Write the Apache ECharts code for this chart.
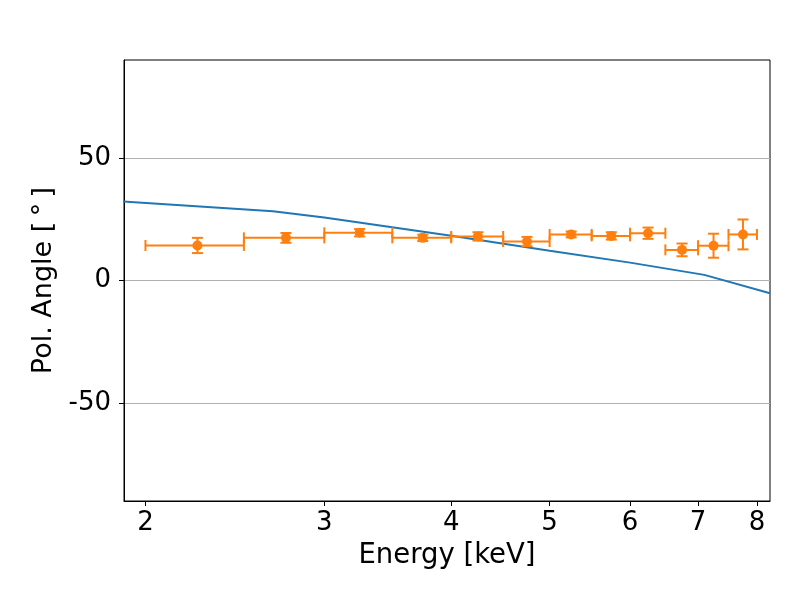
<!DOCTYPE html>
<html>
<head>
<meta charset="utf-8">
<script src="https://cdn.jsdelivr.net/npm/echarts@6/dist/echarts.min.js"></script>
<style>html,body{margin:0;padding:0;background:#fff}#c{width:800px;height:600px}</style>
</head>
<body>
<div id="c"></div>
<script>
// Measured data (energy bins in keV, polarization angle in degrees)
const binCenters = [2.25, 2.75, 3.25, 3.75, 4.25, 4.75, 5.25, 5.75, 6.25, 6.75, 7.25, 7.75];
const binHalfWidths = [0.25, 0.25, 0.25, 0.25, 0.25, 0.25, 0.25, 0.25, 0.25, 0.25, 0.25, 0.25];
const angles = [14.3, 17.4, 19.5, 17.4, 18.0, 15.9, 18.8, 18.2, 19.3, 12.5, 14.2, 18.8];
const angleErrors = [3.1, 2.0, 1.5, 1.3, 1.7, 1.9, 1.2, 1.5, 2.3, 2.6, 4.9, 6.1];
// Model curve
const modelEnergies = [1.9, 2.67, 3.0, 4.0, 5.0, 6.0, 7.1, 8.24];
const modelAngles = [32.2, 28.3, 25.7, 18.3, 12.1, 7.3, 2.3, -5.2];
// Tick labels
const xTicks = [2, 3, 4, 5, 6, 7, 8];
const yTicks = [-50, 0, 50];

const L = Math.log10;
const xMin = L(1.905), xMax = L(8.24);

const errData = binCenters.map((e, i) => [
  L(e), angles[i], L(e - binHalfWidths[i]), L(e + binHalfWidths[i]),
  angles[i] - angleErrors[i], angles[i] + angleErrors[i]
]);
const modelData = modelEnergies.map((e, i) => [L(e), modelAngles[i]]);

const ORANGE = '#ff7f0e', BLUE = '#1f77b4';
const CAP = 5.5;

const chart = echarts.init(document.getElementById('c'), null, {renderer: 'canvas'});
chart.setOption({
  animation: false,
  backgroundColor: '#fff',
  grid: {left: 124, right: 30, top: 60, bottom: 99, show: true, borderColor: '#000', borderWidth: 1, backgroundColor: '#fff'},
  xAxis: {
    type: 'value', min: xMin, max: xMax,
    name: 'Energy [keV]', nameLocation: 'middle', nameGap: 41,
    nameTextStyle: {fontFamily: 'DejaVu Sans', fontSize: 27.5, color: '#000'},
    axisLine: {show: true, onZero: false, lineStyle: {color: '#000', width: 1}},
    axisTick: {show: true, inside: false, length: 5, lineStyle: {color: '#000', width: 1}, customValues: xTicks.map(L)},
    axisLabel: {show: true, margin: 9, fontFamily: 'DejaVu Sans', fontSize: 26, color: '#000',
      customValues: xTicks.map(L), formatter: v => String(Math.round(Math.pow(10, v)))},
    splitLine: {show: false}
  },
  yAxis: {
    type: 'value', min: -90, max: 90,
    name: 'Pol. Angle [\u2009°\u2009]', nameLocation: 'middle', nameGap: 66, nameRotate: 90,
    nameTextStyle: {fontFamily: 'DejaVu Sans', fontSize: 27, color: '#000'},
    axisLine: {show: true, onZero: false, lineStyle: {color: '#000', width: 1}},
    axisTick: {show: true, inside: false, length: 5, lineStyle: {color: '#000', width: 1}, customValues: yTicks},
    axisLabel: {show: true, margin: 13, fontFamily: 'DejaVu Sans', fontSize: 26, color: '#000',
      customValues: yTicks, formatter: v => String(v)},
    splitLine: {show: true, lineStyle: {color: '#b0b0b0', width: 1}}
  },
  series: [
    {
      type: 'line', data: modelData, showSymbol: false, symbol: 'none',
      lineStyle: {color: BLUE, width: 2}, z: 2, clip: true
    },
    {
      type: 'custom', z: 3, clip: true,
      data: errData,
      renderItem: (params, api) => {
        const c = api.coord([api.value(0), api.value(1)]);
        const lo = api.coord([api.value(2), api.value(1)]);
        const hi = api.coord([api.value(3), api.value(1)]);
        const yl = api.coord([api.value(0), api.value(4)]);
        const yh = api.coord([api.value(0), api.value(5)]);
        const st = {stroke: ORANGE, lineWidth: 2, fill: null};
        const line = (x1, y1, x2, y2) => ({type: 'line', shape: {x1, y1, x2, y2}, style: st});
        return {
          type: 'group',
          children: [
            line(lo[0], lo[1], hi[0], hi[1]),
            line(lo[0], lo[1] - CAP, lo[0], lo[1] + CAP),
            line(hi[0], hi[1] - CAP, hi[0], hi[1] + CAP),
            line(c[0], yl[1], c[0], yh[1]),
            line(c[0] - CAP, yl[1], c[0] + CAP, yl[1]),
            line(c[0] - CAP, yh[1], c[0] + CAP, yh[1]),
            {type: 'circle', shape: {cx: c[0], cy: c[1], r: 5}, style: {fill: ORANGE, stroke: null}}
          ]
        };
      }
    }
  ]
});
</script>
</body>
</html>
